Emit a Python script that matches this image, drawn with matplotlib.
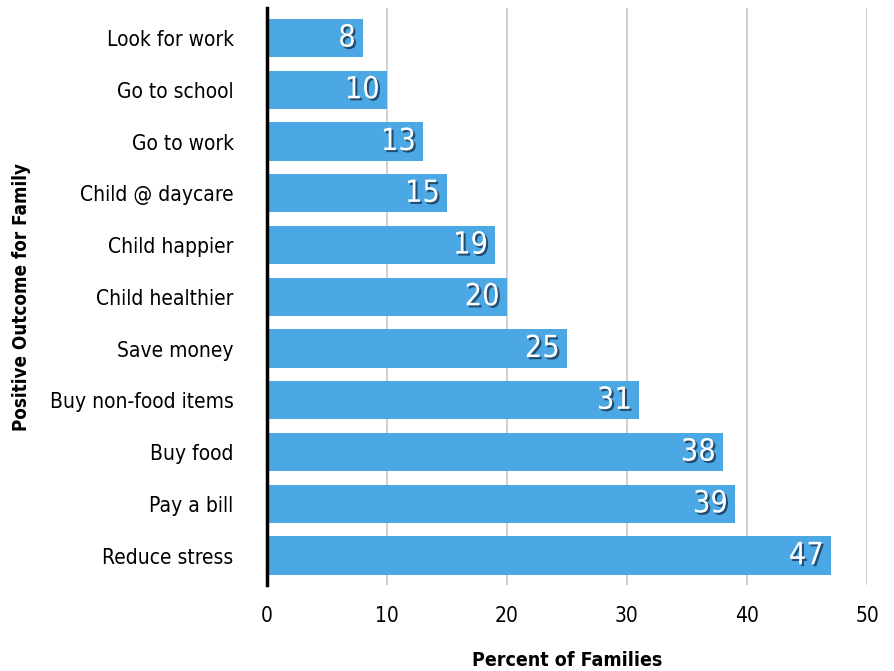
import matplotlib.pyplot as plt
import matplotlib.patheffects as pe
from matplotlib import font_manager

outcomes = ['Look for work', 'Go to school', 'Go to work', 'Child @ daycare',
            'Child happier', 'Child healthier', 'Save money', 'Buy non-food items',
            'Buy food', 'Pay a bill', 'Reduce stress']
percents = [8, 10, 13, 15, 19, 20, 25, 31, 38, 39, 47]

# look for a condensed face, otherwise fall back to Roboto
cond = [f for f in font_manager.fontManager.ttflist
        if 'ondensed' in f.fname or 'Narrow' in f.fname]
if cond:
    fam = cond[0].name
    stretch = cond[0].stretch
else:
    fam = 'Roboto'
    stretch = 'normal'
plt.rcParams['font.family'] = [fam, 'DejaVu Sans']
plt.rcParams['font.stretch'] = stretch

fig = plt.figure(figsize=(8.95, 6.71), dpi=100)
ax = fig.add_axes([0.2983, 0.128, 0.6704, 0.86])

pos = list(range(len(outcomes)))
ax.barh(pos, percents, height=0.74, color='#4ba8e5', zorder=2)
for y, v in zip(pos, percents):
    t = ax.text(v - 0.6, y, str(v), ha='right', va='center', color='white', fontsize=22, zorder=3)
    t.set_path_effects([pe.withSimplePatchShadow(offset=(1.5, -1.5), shadow_rgbFace='#1a3550', alpha=0.8)])

ax.set_yticks(pos)
ax.set_yticklabels(outcomes, fontsize=15)
ax.set_ylim(len(outcomes) - 0.43, -0.58)
ax.set_xlim(0, 50)
ax.set_xticks([0, 10, 20, 30, 40, 50])
ax.tick_params(axis='x', length=0, labelsize=15, pad=15)
ax.tick_params(axis='y', length=0, pad=24)
ax.grid(axis='x', color='#c8c8c8', linewidth=1.2, zorder=0)
for s in ['top', 'right', 'bottom']:
    ax.spines[s].set_visible(False)
ax.spines['left'].set_linewidth(2.5)
ax.spines['left'].set_color('black')
ax.set_xlabel('Percent of Families', fontsize=14, fontweight='bold', labelpad=18)
ax.set_ylabel('Positive Outcome for Family', fontsize=13.5, fontweight='bold')
ax.yaxis.set_label_coords(-0.393, 0.5)

fig.savefig('out.png', dpi=100)
